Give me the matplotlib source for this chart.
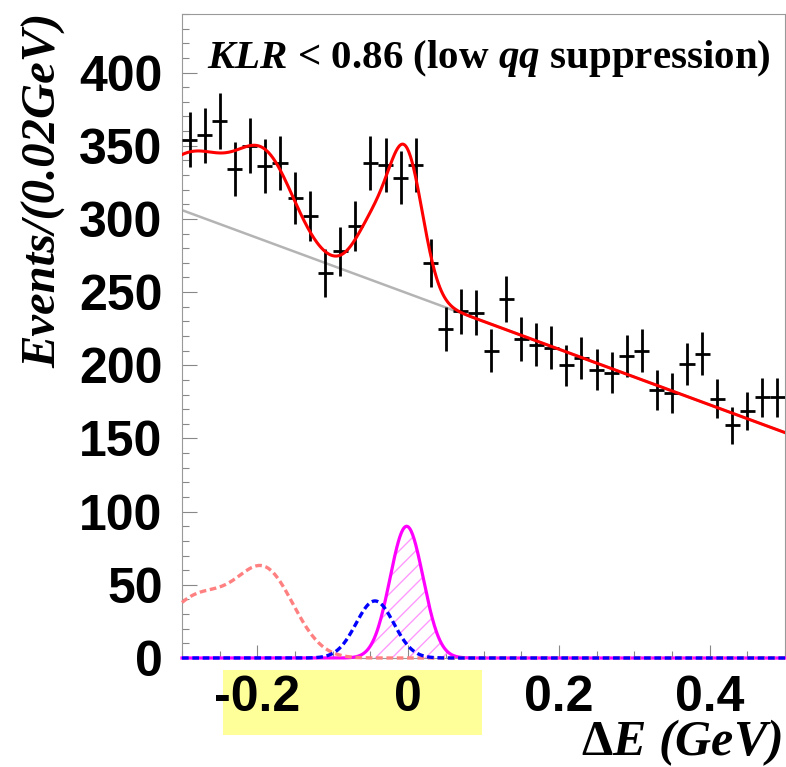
import numpy as np
import matplotlib
matplotlib.use("Agg")
import matplotlib.pyplot as plt
from matplotlib.patches import Rectangle
from matplotlib.ticker import MultipleLocator

plt.rcParams['axes.unicode_minus'] = False
plt.rcParams['mathtext.fontset'] = 'custom'
plt.rcParams['mathtext.rm'] = 'Liberation Serif:bold'
plt.rcParams['mathtext.it'] = 'Liberation Serif:italic:bold'
plt.rcParams['mathtext.bf'] = 'Liberation Serif:bold'
plt.rcParams['hatch.linewidth'] = 1.0

# Delta E histogram, 0.02 GeV bins between -0.3 and 0.5 GeV
de_lo, de_hi, bin_w = -0.3, 0.5, 0.02
counts = [354, 357, 367, 334, 350, 336, 338, 314, 302, 263,
          278, 295, 338, 337, 328, 337, 270, 225, 237, 236,
          210, 245, 218, 214, 212, 200, 205, 197, 195, 206,
          210, 183, 181, 201, 208, 177, 159, 169, 178, 178]

# fit components
bkg_at0, bkg_slope = 249.0, -190.0                    # continuum (grey)
sig_mean, sig_sigma, sig_amp = -0.002, 0.022, 90.0    # signal (magenta)
cf_mean, cf_sigma, cf_amp = -0.044, 0.025, 39.0       # cross-feed (blue)
bb_mean = [-0.189, -0.28]                             # B-Bbar (salmon)
bb_sigma = [0.038, 0.045]
bb_amp = [57.0, 41.0]


def gauss(x, m, s, a):
    return a * np.exp(-0.5 * ((x - m) / s) ** 2)


centers = de_lo + bin_w / 2 + bin_w * np.arange(len(counts))
counts = np.array(counts, dtype=float)

x = np.linspace(de_lo, de_hi, 801)
bkg = bkg_at0 + bkg_slope * x
sig = gauss(x, sig_mean, sig_sigma, sig_amp)
cf = gauss(x, cf_mean, cf_sigma, cf_amp)
bb = sum(gauss(x, m, s, a) for m, s, a in zip(bb_mean, bb_sigma, bb_amp))
total = bkg + sig + cf + bb

W, H = 786, 767
fig = plt.figure(figsize=(W / 100, H / 100), dpi=100)
ax = fig.add_axes([182 / W, (H - 658) / H, (785 - 182) / W, (658 - 14) / H])

ax.errorbar(centers, counts, xerr=bin_w / 2, yerr=np.sqrt(counts), fmt='none',
            ecolor='black', elinewidth=2.0, capsize=0, zorder=3)
ax.plot(x, bkg, color='#b4b4b4', lw=1.8, zorder=2)
ax.plot(x, total, color='#ff0000', lw=2.2, zorder=4)

ax.fill_between(x, 0, sig, facecolor='none', edgecolor='#ff99ff', hatch='//',
                linewidth=0, zorder=2)
ax.plot(x, sig, color='#ff00ff', lw=2.3, zorder=3, clip_on=False)
ax.plot(x, bb, color='#ff8080', lw=2.4, dashes=(2, 1.1), zorder=3, clip_on=False)
ax.plot(x, cf, color='#0000ff', lw=2.4, dashes=(2, 1.1), zorder=4, clip_on=False)

ax.set_xlim(de_lo, de_hi)
ax.set_ylim(0, 440)

ax.set_xticks([-0.2, 0, 0.2, 0.4])
ax.set_xticklabels(['-0.2', '0', '0.2', '0.4'])
ax.xaxis.set_minor_locator(MultipleLocator(0.05))
ax.set_yticks(range(0, 401, 50))
ax.yaxis.set_minor_locator(MultipleLocator(10))

ax.tick_params(which='both', direction='in', top=False, right=False,
               color='#888888', width=0.8)
ax.tick_params(axis='x', which='major', length=9.5, pad=12)
ax.tick_params(axis='y', which='major', length=10.5, pad=14)
ax.tick_params(which='minor', length=5)
for lab in ax.get_xticklabels() + ax.get_yticklabels():
    lab.set_fontfamily('Liberation Sans')
    lab.set_fontweight('bold')
    lab.set_fontsize(36)

for sp in ax.spines.values():
    sp.set_color('#999999')
    sp.set_linewidth(0.8)

# highlight behind the signal-region tick labels
fig.add_artist(Rectangle((223 / W, (H - 735) / H), (482 - 223) / W, 65 / H,
                         transform=fig.transFigure, facecolor='#ffff99',
                         edgecolor='none', zorder=-1))

fig.text(207 / W, 1 - 67.6 / H, r'$KLR$ < 0.86 (low $qq$ suppression)',
         fontfamily='Liberation Serif', fontweight='bold', fontsize=29.5,
         va='baseline', ha='left')
fig.text(782 / W, 1 - 755 / H, r'$\Delta E$ (GeV)',
         fontfamily='Liberation Serif', fontweight='bold', fontstyle='italic',
         fontsize=36, va='baseline', ha='right')
fig.text(44 / W, 1 - 13 / H, 'Events/(0.02GeV)', rotation=90,
         fontfamily='Liberation Serif', fontweight='bold', fontstyle='italic',
         fontsize=35, va='top', ha='center')

fig.savefig('out.png', dpi=100)
